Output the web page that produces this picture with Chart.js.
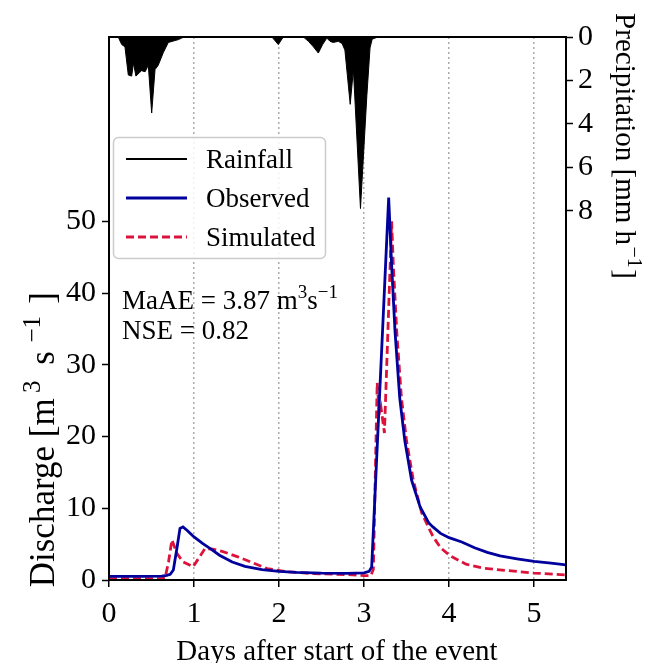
<!DOCTYPE html>
<html><head><meta charset="utf-8">
<script src="https://cdn.jsdelivr.net/npm/chart.js@4/dist/chart.umd.min.js"></script>
<style>html,body{margin:0;padding:0;background:#fff}canvas{display:block}</style>
</head><body>
<canvas id="c" width="657" height="663"></canvas>
<script>
// ---- data ----
const xTickLabels = [0, 1, 2, 3, 4, 5];
const dischargeTicks = [0, 10, 20, 30, 40, 50];
const precipTicks = [0, 2, 4, 6, 8];

// rainfall (hours after start, mm/h)
const rainHours = [0, 2.6, 3.6, 4.5, 5.45, 6.4, 6.9, 7.6, 8.55, 9.2, 10.2, 11.1, 12.05, 13.0, 13.9, 15.3, 16.75, 19.6, 20.5, 21.2,
  46.0, 47.8, 49.2,
  54.9, 56.3, 57.7, 59.1, 60.3, 61.5, 62.4, 63.3, 64.75, 65.8, 66.6, 68.1, 69.0, 71.0, 72.8, 73.7, 74.3, 75.1, 76.0, 129];
const rainValues = [0, 0, 0.35, 0.45, 1.75, 1.8, 1.2, 1.8, 1.65, 1.55, 1.6, 1.3, 3.5, 1.5, 1.3, 0.73, 0.25, 0.12, 0.05, 0,
  0, 0.35, 0,
  0, 0.2, 0.45, 0.74, 0.35, 0.05, 0.2, 0.25, 0.2, 0.3, 0.6, 3.1, 1.5, 7.9, 2.7, 0.5, 0.1, 0.05, 0, 0];

// observed discharge (days, m3/s)
const obsDays = [0, 0.4, 0.62, 0.68, 0.72, 0.757, 0.80, 0.835, 0.87, 0.92, 1.0, 1.1, 1.2, 1.3, 1.45, 1.6, 1.8, 2.0, 2.2, 2.5, 2.8, 3.0, 3.06, 3.09,
  3.29, 3.325, 3.365, 3.42, 3.48, 3.56, 3.66, 3.76, 3.81, 3.9, 4.0, 4.15, 4.3, 4.45, 4.6, 4.8, 5.0, 5.2, 5.376];
const obsValues = [0.5, 0.5, 0.55, 0.65, 0.8, 1.4, 4.5, 7.2, 7.4, 6.9, 6.0, 5.1, 4.3, 3.45, 2.5, 1.9, 1.45, 1.2, 1.05, 0.95, 0.93, 1.0, 1.2, 1.8,
  53.3, 43.8, 34.6, 25.4, 19.4, 13.9, 10.2, 8.0, 7.4, 6.5, 5.9, 5.3, 4.5, 3.85, 3.35, 2.95, 2.6, 2.35, 2.1];

// simulated discharge (days, m3/s)
const simDays = [0, 0.62, 0.66, 0.70, 0.74, 0.80, 0.87, 0.99, 1.07, 1.13, 1.22, 1.33, 1.5, 1.66, 1.86, 2.1, 2.4, 2.8, 3.0, 3.08, 3.11,
  3.155, 3.18, 3.20, 3.24, 3.325, 3.345, 3.385, 3.44, 3.50, 3.58, 3.64, 3.68, 3.78, 3.815, 3.9, 4.01, 4.2, 4.4, 4.7, 5.0, 5.376];
const simValues = [0.2, 0.2, 0.3, 2.5, 5.6, 3.7, 2.55, 1.85, 3.3, 4.4, 4.3, 4.0, 3.3, 2.55, 1.6, 1.15, 0.9, 0.75, 0.6, 0.6, 1.5,
  27.5, 23, 24, 20.5, 50, 43.8, 34.6, 25.4, 19.4, 13.9, 11.1, 9.3, 6.8, 6.0, 4.5, 3.4, 2.2, 1.65, 1.3, 0.97, 0.7];

// ---- build chart ----
const FONT = '"Liberation Serif", "Times New Roman", serif';
const FS = 27;      // legend / annotation
const TFS = 30;     // tick labels
const rain = rainHours.map((h, i) => ({x: h / 24, y: rainValues[i]}));
const obs = obsDays.map((d, i) => ({x: d, y: obsValues[i]}));
const sim = simDays.map((d, i) => ({x: d, y: simValues[i]}));

function drawRich(ctx, parts, x, y, align, angle, size) {
  ctx.save();
  ctx.translate(x, y);
  ctx.rotate(angle);
  ctx.textBaseline = 'alphabetic';
  ctx.textAlign = 'left';
  ctx.fillStyle = '#000';
  const main = size + 'px ' + FONT, sup = Math.round(size * 0.7) + 'px ' + FONT;
  let w = 0;
  const ws = parts.map(p => { ctx.font = p.sup ? sup : main; const m = ctx.measureText(p.t).width + (p.gap || 0) * size; w += m; return m; });
  let cx = align === 'center' ? -w / 2 : 0;
  parts.forEach((p, i) => {
    ctx.font = p.sup ? sup : main;
    ctx.fillText(p.t, cx + (p.gap || 0) * size / 2, p.sup ? -size * 0.4 : 0);
    cx += ws[i];
  });
  ctx.restore();
}

const decor = {
  id: 'decor',
  afterDatasetsDraw(chart) {
    const {ctx, chartArea: a} = chart;
    ctx.save();
    ctx.strokeStyle = '#000';
    ctx.lineWidth = 2;
    ctx.setLineDash([]);
    ctx.strokeRect(a.left, a.top, a.right - a.left, a.bottom - a.top);
    ctx.restore();
  },
  afterDraw(chart) {
    const {ctx} = chart;
    ctx.save();
    // legend box
    ctx.beginPath();
    ctx.roundRect(113.5, 137.5, 212, 121, 5);
    ctx.fillStyle = 'rgba(255,255,255,0.85)';
    ctx.fill();
    ctx.strokeStyle = '#cccccc';
    ctx.lineWidth = 1.5;
    ctx.stroke();
    const ds = chart.data.datasets;
    const rows = [159, 198, 237];
    ds.forEach((d, i) => {
      ctx.beginPath();
      ctx.strokeStyle = d.borderColor;
      ctx.lineWidth = i === 0 ? 2.2 : d.borderWidth;
      ctx.setLineDash(d.borderDash || []);
      ctx.moveTo(126, rows[i]);
      ctx.lineTo(187, rows[i]);
      ctx.stroke();
      ctx.setLineDash([]);
      ctx.fillStyle = '#000';
      ctx.font = FS + 'px ' + FONT;
      ctx.textBaseline = 'alphabetic';
      ctx.fillText(d.label, 206, rows[i] + 9);
    });
    ctx.restore();
    // annotations
    drawRich(ctx, [{t: 'MaAE = 3.87 m'}, {t: '3', sup: true}, {t: 's'}, {t: '\u22121', sup: true}], 122, 309, 'left', 0, FS);
    drawRich(ctx, [{t: 'NSE = 0.82'}], 122, 339, 'left', 0, FS);
    // axis titles
    drawRich(ctx, [{t: 'Days after start of the event'}], 337, 660, 'center', 0, 29);
    drawRich(ctx, [{t: 'Discharge [m'}, {t: '3', sup: true, gap: 0.3}, {t: ' s', gap: 0.1}, {t: '\u22121', sup: true, gap: 0.4}, {t: ']', gap: 0.3}], 54, 437, 'center', -Math.PI / 2, 35);
    drawRich(ctx, [{t: 'Precipitation [mm h'}, {t: '\u22121', sup: true, gap: 0.1}, {t: ']'}], 616, 146, 'center', Math.PI / 2, 29);
  }
};

const tickFont = {family: FONT, size: TFS};
new Chart(document.getElementById('c'), {
  type: 'line',
  data: {
    datasets: [
      {label: 'Rainfall', data: rain, yAxisID: 'yP', borderColor: '#000000', backgroundColor: '#000000', borderWidth: 1, fill: 'origin', pointRadius: 0, tension: 0},
      {label: 'Observed', data: obs, yAxisID: 'yQ', borderColor: '#00009c', borderWidth: 2.8, fill: false, pointRadius: 0, tension: 0},
      {label: 'Simulated', data: sim, yAxisID: 'yQ', borderColor: '#dc143c', borderWidth: 2.8, borderDash: [8, 4], fill: false, pointRadius: 0, tension: 0}
    ]
  },
  options: {
    responsive: false, animation: false, devicePixelRatio: 1,
    layout: {padding: {top: 37, left: 0, right: 0, bottom: 0}},
    plugins: {legend: {display: false}, tooltip: {enabled: false}},
    scales: {
      x: {
        type: 'linear', min: 0, max: 5.376,
        afterBuildTicks: s => { s.ticks = xTickLabels.map(v => ({value: v})); },
        ticks: {font: tickFont, color: '#000', padding: 9, maxRotation: 0},
        grid: {color: '#aaaaaa', lineWidth: 1.5, tickColor: '#000', tickBorderDash: [], tickLength: 7, tickWidth: 1.5},
        border: {display: false, dash: [2, 3]},
        afterFit: s => { s.height = 83; }
      },
      yQ: {
        type: 'linear', position: 'left', min: 0, max: 75.7,
        afterBuildTicks: s => { s.ticks = dischargeTicks.map(v => ({value: v})); },
        ticks: {font: tickFont, color: '#000', padding: 6},
        grid: {drawOnChartArea: false, tickColor: '#000', tickLength: 7, tickWidth: 1.5},
        border: {display: false},
        afterFit: s => { s.width = 109; }
      },
      yP: {
        type: 'linear', position: 'right', reverse: true, min: 0, max: 25,
        afterBuildTicks: s => { s.ticks = precipTicks.map(v => ({value: v})); },
        ticks: {font: tickFont, color: '#000', padding: 5},
        grid: {drawOnChartArea: false, tickColor: '#000', tickLength: 7, tickWidth: 1.5},
        border: {display: false},
        afterFit: s => { s.width = 91; }
      }
    }
  },
  plugins: [decor]
});
</script>
</body></html>
